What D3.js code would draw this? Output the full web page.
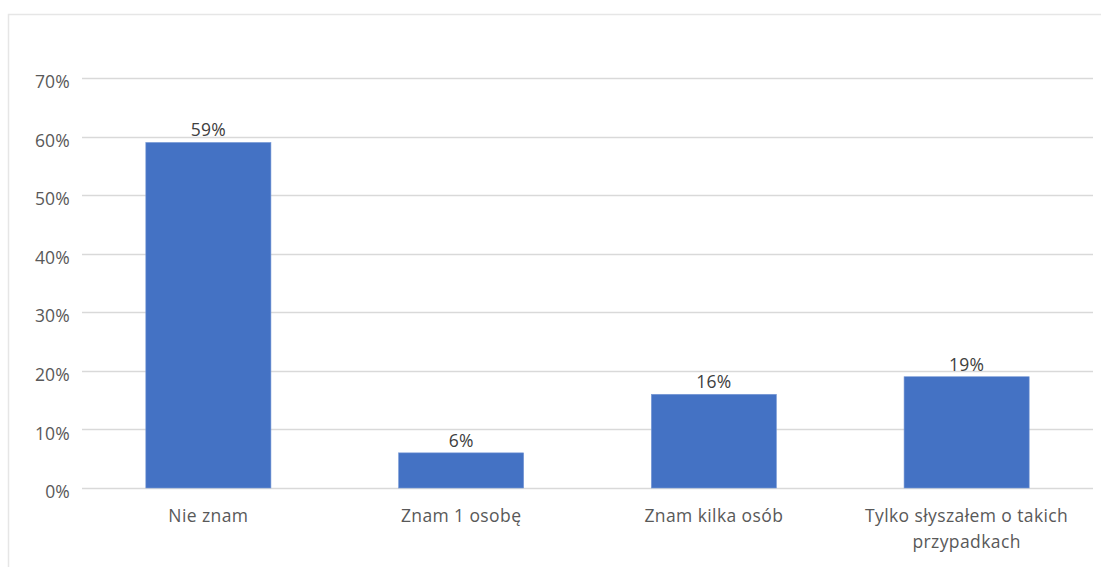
<!DOCTYPE html>
<html>
<head>
<meta charset="utf-8">
<script src="https://cdn.jsdelivr.net/npm/d3@7/dist/d3.min.js"></script>
<style>
body { margin: 0; background: #fff; }
svg { display: block; font-family: "Open Sans", "Noto Sans", sans-serif; }
</style>
</head>
<body>
<svg id="chart" width="1101" height="567"></svg>
<script>
const categories = ["Nie znam", "Znam 1 osobę", "Znam kilka osób", "Tylko słyszałem o takich przypadkach"];
const values = [0.59, 0.06, 0.16, 0.19];
const valueLabels = ["59%", "6%", "16%", "19%"];
const yTicks = [0, 0.1, 0.2, 0.3, 0.4, 0.5, 0.6, 0.7];

const svg = d3.select("#chart");
const W = 1101, H = 567;
const FS = "17.5px";

// outer frame
svg.append("path")
  .attr("d", `M8.5,${H} V14.5 H${W}`)
  .attr("fill", "none")
  .attr("stroke", "#e6e6e6")
  .attr("stroke-width", 1.5);

const x = d3.scaleBand().domain(categories).range([82, 1093]).paddingInner(0.505).paddingOuter(0.2525);
const y = d3.scaleLinear().domain([0, 0.7]).range([488, 78]);

// gridlines
svg.append("g").selectAll("line").data(yTicks).join("line")
  .attr("x1", 82).attr("x2", 1093)
  .attr("y1", d => Math.round(y(d)) + 0.5).attr("y2", d => Math.round(y(d)) + 0.5)
  .attr("stroke", "#d9d9d9").attr("stroke-width", 1.3);

// y axis labels
const yAxis = d3.axisLeft(y).tickValues(yTicks).tickFormat(d3.format(".0%")).tickSize(0).tickPadding(0);
const yg = svg.append("g").attr("transform", "translate(70,0)").call(yAxis);
yg.select(".domain").remove();
yg.selectAll("text").attr("fill", "#595959").attr("dy", "0.55em")
  .style("font-size", FS).style("font-family", "'Open Sans', sans-serif").style("letter-spacing", "0.2px");

// bars
svg.append("g").selectAll("rect").data(values).join("rect")
  .attr("x", (d, i) => x(categories[i]))
  .attr("width", x.bandwidth())
  .attr("y", d => y(d))
  .attr("height", d => y(0) - y(d))
  .attr("fill", "#4472C4")
  .attr("stroke", "#7a9bd6").attr("stroke-width", 0.6);

// value labels
svg.append("g").selectAll("text").data(values).join("text")
  .attr("x", (d, i) => x(categories[i]) + x.bandwidth() / 2)
  .attr("y", d => y(d) - 6)
  .attr("text-anchor", "middle")
  .attr("fill", "#404040")
  .style("font-size", FS).style("letter-spacing", "0.2px")
  .text((d, i) => valueLabels[i]);

// category labels (wrap)
const catG = svg.append("g");
categories.forEach((c, i) => {
  const cx = x(c) + x.bandwidth() / 2;
  let lines = [c];
  if (c.length > 25) lines = ["Tylko słyszałem o takich", "przypadkach"];
  const t = catG.append("text")
    .attr("x", cx).attr("y", 522)
    .attr("text-anchor", "middle")
    .attr("fill", "#595959")
    .style("font-size", FS).style("letter-spacing", "0.4px");
  lines.forEach((l, j) => {
    t.append("tspan").attr("x", cx).attr("dy", j === 0 ? 0 : 26).text(l);
  });
});
</script>
</body>
</html>
